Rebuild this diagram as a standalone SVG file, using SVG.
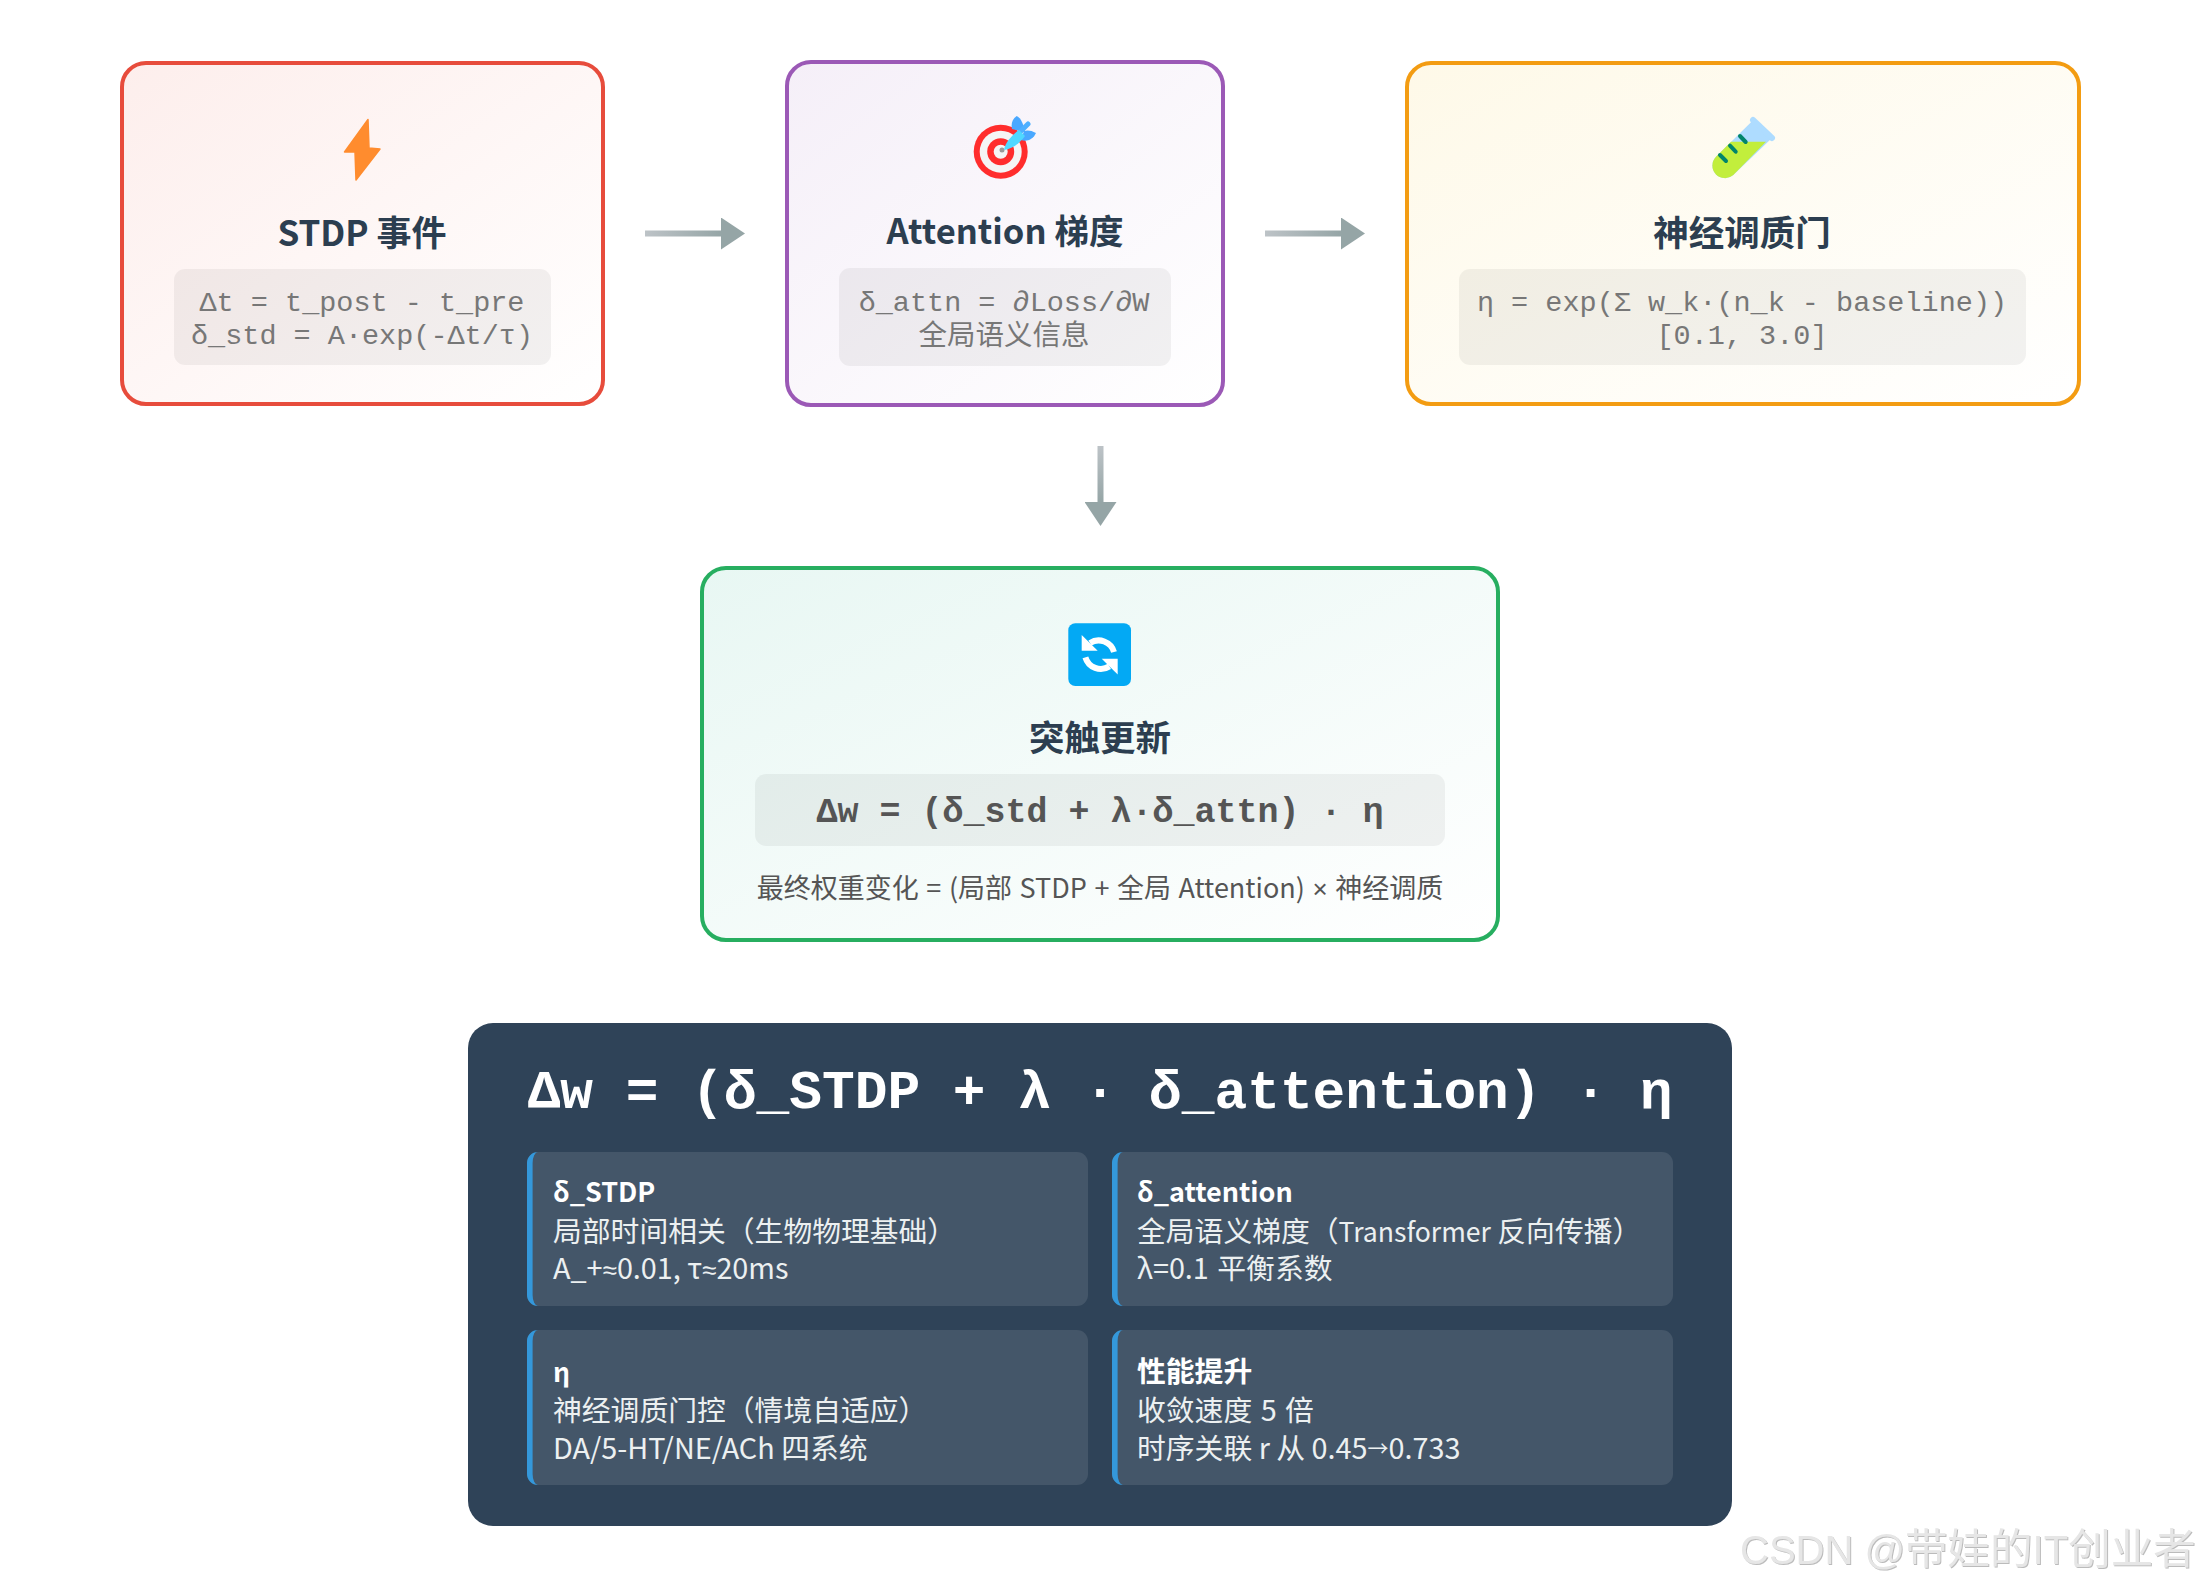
<svg xmlns="http://www.w3.org/2000/svg" width="2200" height="1586" viewBox="0 0 2200 1586">
<defs>
<linearGradient id="g1" x1="0" y1="0" x2="1" y2="1"><stop offset="0" stop-color="#fdeeec"/><stop offset="1" stop-color="#fff"/></linearGradient>
<linearGradient id="g2" x1="0" y1="0" x2="1" y2="1"><stop offset="0" stop-color="#f5eff8"/><stop offset="1" stop-color="#fff"/></linearGradient>
<linearGradient id="g3" x1="0" y1="0" x2="1" y2="1"><stop offset="0" stop-color="#fef9e8"/><stop offset="1" stop-color="#fff"/></linearGradient>
<linearGradient id="g4" x1="0" y1="0" x2="1" y2="1"><stop offset="0" stop-color="#e8f7f3"/><stop offset="1" stop-color="#fff"/></linearGradient>
<linearGradient id="a1" gradientUnits="userSpaceOnUse" x1="645" y1="0" x2="722" y2="0"><stop offset="0" stop-color="#bdc3c7"/><stop offset="1" stop-color="#95a5a6"/></linearGradient>
<linearGradient id="a2" gradientUnits="userSpaceOnUse" x1="1265" y1="0" x2="1342" y2="0"><stop offset="0" stop-color="#bdc3c7"/><stop offset="1" stop-color="#95a5a6"/></linearGradient>
<linearGradient id="a3" gradientUnits="userSpaceOnUse" x1="0" y1="446" x2="0" y2="503"><stop offset="0" stop-color="#bdc3c7"/><stop offset="1" stop-color="#95a5a6"/></linearGradient>
<marker id="head" markerUnits="userSpaceOnUse" markerWidth="25" markerHeight="32" refX="0" refY="16" orient="auto"><path d="M0 0L24 16L0 32Z" fill="#95a5a6"/></marker>
<filter id="emboss" x="-5%" y="-20%" width="110%" height="140%"><feDropShadow dx="1" dy="1" stdDeviation="0.4" flood-color="#aaa" flood-opacity="0.8"/></filter>
</defs>
<style>
text{font-family:"Noto Sans CJK SC","Noto Sans",sans-serif}
.box{stroke-width:4}
.code{fill:#000;fill-opacity:.05}
.title{font-size:35.5px;font-weight:700;fill:#2c3e50;text-anchor:middle}
.mono{font-family:"Liberation Mono","Noto Sans CJK SC",monospace;font-size:28.5px;fill:#777;text-anchor:middle}
.card{fill:#fff;fill-opacity:.1}
.bar{fill:#3498db}
.ct{font-size:28.8px;fill:#ecf0f1}
.cb{font-size:28.8px;font-weight:700;fill:#fff}
.cl{font-size:27px}
.nar{font-family:"Liberation Sans",sans-serif;font-size:26px}
.conn{fill:none;stroke-width:6;marker-end:url(#head)}
</style>
<rect width="2200" height="1586" fill="#fff"/>
<g id="connectors">
<path class="conn" stroke="url(#a1)" d="M645 233.5H721"/>
<path class="conn" stroke="url(#a2)" d="M1265 233.5H1341"/>
<path class="conn" stroke="url(#a3)" d="M1100.5 446V502"/>
</g>
<g id="node-stdp">
<rect class="box" x="122" y="63" width="481" height="341" rx="24" fill="url(#g1)" stroke="#e74c3c"/>
<path d="M368 119.5L344.5 152L355 152L356 180L380 149L369 148Z" fill="#ff8c2e" stroke="#ff8c2e" stroke-width="1.5" stroke-linejoin="round"/>
<text class="title" x="362" y="245.5" style="font-size:35px">STDP 事件</text>
<rect class="code" x="174" y="269" width="377" height="96" rx="11"/>
<text class="mono" x="362" y="311">Δt = t_post - t_pre</text>
<text class="mono" x="362" y="344">δ_std = A·exp(-Δt/τ)</text>
</g>
<g id="node-attention">
<rect class="box" x="787" y="62" width="436" height="343" rx="24" fill="url(#g2)" stroke="#9b59b6"/>
<circle cx="1000.7" cy="151.7" r="27" fill="#ff2d2d"/><circle cx="1000.7" cy="151.7" r="21" fill="#f5f5f5"/><circle cx="1000.7" cy="151.7" r="13.5" fill="#ff2d2d"/><circle cx="1000.7" cy="151.7" r="7" fill="#f5f5f5"/><circle cx="1002" cy="150" r="2.5" fill="#999"/>
<path d="M1016.7 116C1012 119 1011 124 1012 129L1025 132C1024 125 1021 118 1016.7 116Z" fill="#4aa8ff"/>
<path d="M1036 133C1031 130 1027 130 1024 131L1021 140C1026 142 1033 140 1036 133Z" fill="#4aa8ff"/>
<path d="M1015 137L1028 124" stroke="#4fb0ff" stroke-width="5" stroke-linecap="round"/>
<path d="M1004 150C1005 143 1011 136 1019 130L1025 136C1019 144 1012 149 1004 150Z" fill="#4fd8ff"/>
<text class="title" x="1005" y="243.5" style="font-size:34.5px">Attention 梯度</text>
<rect class="code" x="839" y="268" width="332" height="98" rx="11"/>
<text class="mono" x="1004" y="311">δ_attn = ∂Loss/∂W</text>
<text class="mono" x="1004" y="345">全局语义信息</text>
</g>
<g id="node-gate">
<rect class="box" x="1407" y="63" width="672" height="341" rx="24" fill="url(#g3)" stroke="#f39c12"/>
<path d="M1716 156.7L1753.3 120L1771.7 138.3L1733.3 175A12.6 12.6 0 0 1 1716 156.7Z" fill="#aedcff"/>
<path d="M1731 141.7H1766L1733.3 175A12.6 12.6 0 0 1 1716 156.7Z" fill="#c2ee3c"/>
<path d="M1753 120L1772 138" stroke="#aedcff" stroke-width="6" stroke-linecap="round"/>
<path d="M1720 155L1726 161M1730 145.7L1735.7 151.7M1740 136L1745.7 142" stroke="#00856b" stroke-width="4" stroke-linecap="round"/>
<text class="title" x="1742" y="246">神经调质门</text>
<rect class="code" x="1459" y="269" width="567" height="96" rx="11"/>
<text class="mono" x="1742" y="311">η = exp(Σ w_k·(n_k - baseline))</text>
<text class="mono" x="1742" y="343.5">[0.1, 3.0]</text>
</g>
<g id="node-update">
<rect class="box" x="702" y="568" width="796" height="372" rx="24" fill="url(#g4)" stroke="#27ae60"/>
<rect x="1068.3" y="623.3" width="62.7" height="62.7" rx="7" fill="#03a9f4"/>
<g id="refresh">
<path d="M1081.7 635V650.7H1097.7Z" fill="#fff"/><path d="M1090 643A16 16 0 0 1 1114 652" fill="none" stroke="#fff" stroke-width="6"/>
<path transform="rotate(180 1099.7 654.7)" d="M1081.7 635V650.7H1097.7Z" fill="#fff"/><path transform="rotate(180 1099.7 654.7)" d="M1090 643A16 16 0 0 1 1114 652" fill="none" stroke="#fff" stroke-width="6"/>
</g>
<text class="title" x="1100" y="751">突触更新</text>
<rect class="code" x="755" y="774" width="690" height="72" rx="11"/>
<text x="1100" y="822" style="font-family:'Liberation Mono','Noto Sans CJK SC',monospace;font-size:35px;font-weight:700;fill:#555;text-anchor:middle">Δw = (δ_std + λ·δ_attn) · η</text>
<text x="1100" y="898" style="font-size:27px;fill:#555;text-anchor:middle;word-spacing:1.5px">最终权重变化 = (局部 STDP + 全局 Attention) <tspan class="nar">×</tspan> 神经调质</text>
</g>
<g id="node-summary">
<rect x="468" y="1023" width="1264" height="503" rx="25" fill="#2f4358"/>
<text x="1100" y="1108" style="font-family:'Liberation Mono','Noto Sans CJK SC',monospace;font-size:54.5px;font-weight:700;fill:#fff;text-anchor:middle">Δw = (δ_STDP + λ · δ_attention) · η</text>
<g id="card-stdp">
<rect class="card" x="527" y="1152" width="561" height="154" rx="11"/>
<path class="bar" d="M538 1152A11 11 0 0 0 527 1163V1295A11 11 0 0 0 538 1306A5.4 11 0 0 1 532.6 1295V1163A5.4 11 0 0 1 538 1152Z"/>
<text class="cb cl" x="553" y="1202">δ_STDP</text><text class="ct" x="553" y="1242">局部时间相关（生物物理基础）</text><text class="ct" x="553" y="1279">A_+<tspan class="nar">≈</tspan>0.01, τ<tspan class="nar">≈</tspan>20ms</text>
</g>
<g id="card-attention">
<rect class="card" x="1112" y="1152" width="561" height="154" rx="11"/>
<path class="bar" d="M1123 1152A11 11 0 0 0 1112 1163V1295A11 11 0 0 0 1123 1306A5.4 11 0 0 1 1117.6 1295V1163A5.4 11 0 0 1 1123 1152Z"/>
<text class="cb cl" x="1137" y="1202">δ_attention</text><text class="ct" x="1137" y="1242">全局语义梯度（<tspan style="font-size:26.6px">Transformer</tspan> 反向传播）</text><text class="ct" x="1137" y="1279" style="word-spacing:2px">λ=0.1 平衡系数</text>
</g>
<g id="card-eta">
<rect class="card" x="527" y="1330" width="561" height="155" rx="11"/>
<path class="bar" d="M538 1330A11 11 0 0 0 527 1341V1474A11 11 0 0 0 538 1485A5.4 11 0 0 1 532.6 1474V1341A5.4 11 0 0 1 538 1330Z"/>
<text class="cb cl" x="553" y="1382">η</text><text class="ct" x="553" y="1420.5">神经调质门控（情境自适应）</text><text class="ct" x="553" y="1459">DA/5-HT/NE/ACh 四系统</text>
</g>
<g id="card-perf">
<rect class="card" x="1112" y="1330" width="561" height="155" rx="11"/>
<path class="bar" d="M1123 1330A11 11 0 0 0 1112 1341V1474A11 11 0 0 0 1123 1485A5.4 11 0 0 1 1117.6 1474V1341A5.4 11 0 0 1 1123 1330Z"/>
<text class="cb" x="1137" y="1382">性能提升</text><text class="ct" x="1137" y="1420.5" style="word-spacing:2px">收敛速度 5 倍</text><text class="ct" x="1137" y="1459">时序关联 r 从 0.45<tspan dy="-3" style="font-size:21px">→</tspan><tspan dy="3">0.733</tspan></text>
</g>
</g>
<text x="1740" y="1564" filter="url(#emboss)" style="font-family:'Liberation Sans','Noto Sans CJK SC',sans-serif;font-size:40px;fill:#e6e6e6">CSDN @<tspan style="font-size:42.5px">带娃的</tspan>IT<tspan style="font-size:42.5px">创业者</tspan></text>
</svg>
